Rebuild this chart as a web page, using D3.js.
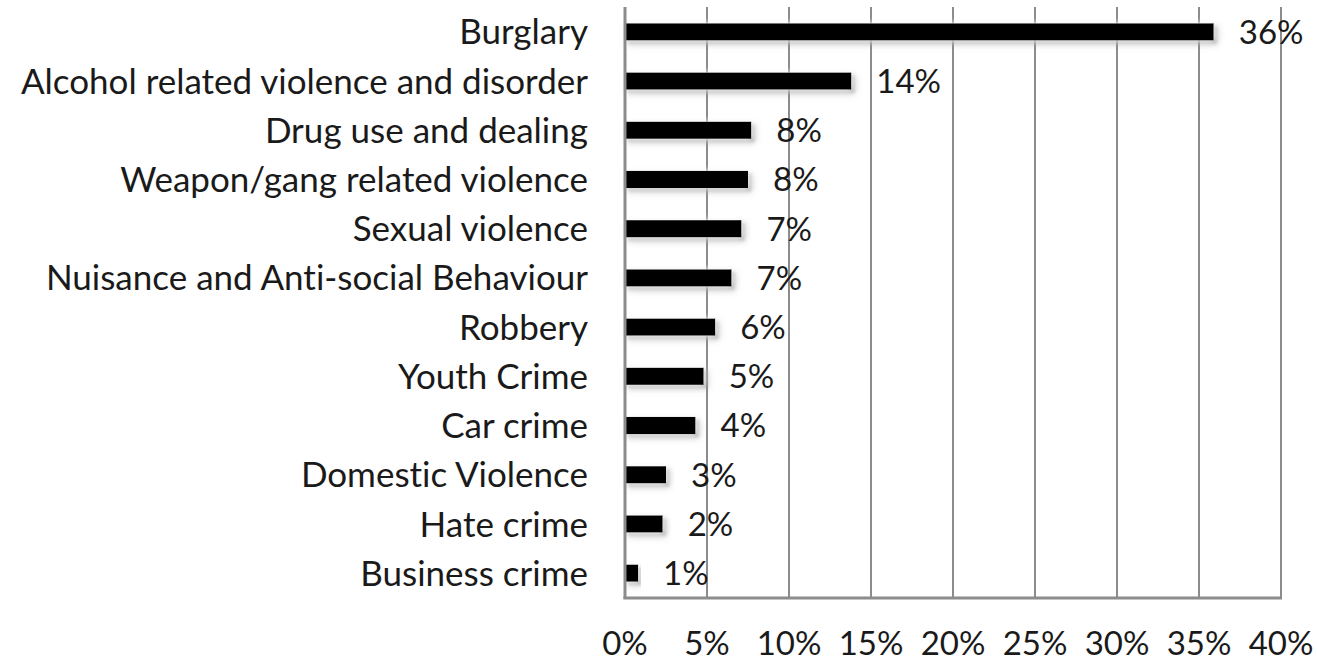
<!DOCTYPE html>
<html>
<head>
<meta charset="utf-8">
<script src="https://cdn.jsdelivr.net/npm/d3@7"></script>
<style>
  body { margin: 0; background: #fff; }
  text { font-family: Lato, "Open Sans", sans-serif; fill: #1a1a1a; font-variant-ligatures: none; }
</style>
</head>
<body>
<svg width="1317" height="663"></svg>
<script>
const categories = [
  "Burglary", "Alcohol related violence and disorder", "Drug use and dealing",
  "Weapon/gang related violence", "Sexual violence", "Nuisance and Anti-social Behaviour",
  "Robbery", "Youth Crime", "Car crime", "Domestic Violence", "Hate crime", "Business crime"
];
const values = [35.9, 13.8, 7.7, 7.5, 7.1, 6.5, 5.5, 4.8, 4.3, 2.5, 2.3, 0.8];
const labels = ["36%", "14%", "8%", "8%", "7%", "7%", "6%", "5%", "4%", "3%", "2%", "1%"];
const ticks = [0, 5, 10, 15, 20, 25, 30, 35, 40];

const svg = d3.select("svg");
const x = d3.scaleLinear().domain([0, 40]).range([625, 1281]);
const y = d3.scaleBand().domain(categories).range([7, 598]).paddingInner(0.65).paddingOuter(0.33);

const defs = svg.append("defs");
const f = defs.append("filter").attr("id", "shadow").attr("x", "-10%").attr("y", "-50%").attr("width", "130%").attr("height", "250%");
f.append("feDropShadow").attr("dx", 0).attr("dy", 0).attr("stdDeviation", 3).attr("flood-color", "#fff").attr("flood-opacity", 1);
f.append("feDropShadow").attr("dx", 3).attr("dy", 3).attr("stdDeviation", 1.5).attr("flood-color", "#777").attr("flood-opacity", 0.6);

// gridlines
svg.append("g").selectAll("line").data(ticks.slice(1)).enter().append("line")
  .attr("x1", d => x(d)).attr("x2", d => x(d))
  .attr("y1", 7).attr("y2", 598)
  .attr("stroke", "#8c8c8c").attr("stroke-width", 2);

// bars
svg.append("g").selectAll("rect").data(values).enter().append("rect")
  .attr("x", x(0))
  .attr("y", (d, i) => y(categories[i]))
  .attr("width", d => x(d) - x(0))
  .attr("height", y.bandwidth())
  .attr("fill", "#000")
  .attr("filter", "url(#shadow)");

// axes lines
svg.append("line").attr("x1", x(0)).attr("x2", x(0)).attr("y1", 7).attr("y2", 599)
  .attr("stroke", "#8c8c8c").attr("stroke-width", 3);
svg.append("line").attr("x1", x(0) - 1.5).attr("x2", x(40) + 1).attr("y1", 598).attr("y2", 598)
  .attr("stroke", "#8c8c8c").attr("stroke-width", 3);

// value labels
svg.append("g").selectAll("text").data(values).enter().append("text")
  .attr("x", d => x(d) + 25)
  .attr("y", (d, i) => y(categories[i]) + y.bandwidth() / 2)
  .attr("dy", "0.36em")
  .attr("font-size", 33)
  .text((d, i) => labels[i]);

// category labels
svg.append("g").selectAll("text").data(categories).enter().append("text")
  .attr("x", 588)
  .attr("y", d => y(d) + y.bandwidth() / 2)
  .attr("dy", "0.36em")
  .attr("text-anchor", "end")
  .attr("font-size", 35)
  .text(d => d);

// tick labels
svg.append("g").selectAll("text").data(ticks).enter().append("text")
  .attr("x", d => x(d))
  .attr("y", 643)
  .attr("dy", "0.36em")
  .attr("text-anchor", "middle")
  .attr("font-size", 33)
  .text(d => d + "%");
</script>
</body>
</html>
